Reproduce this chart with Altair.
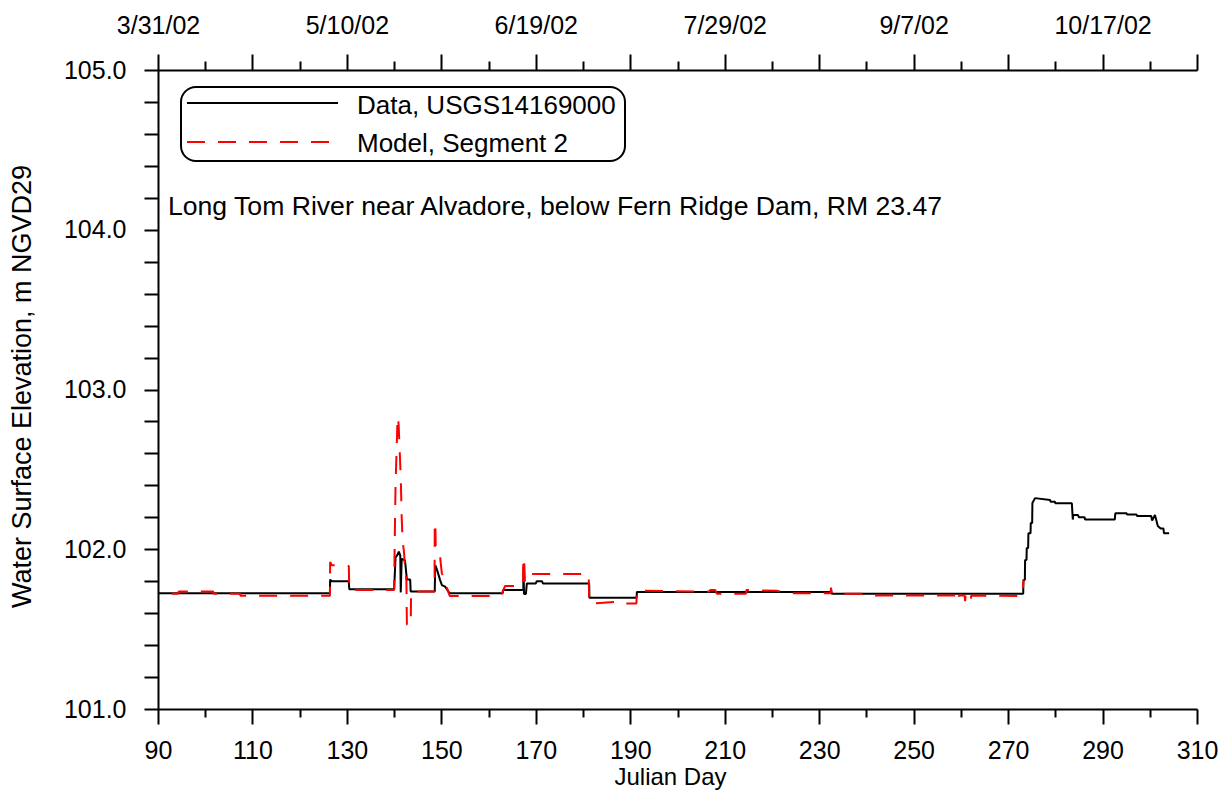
import altair as alt
import pandas as pd

# ---------------- data ----------------
data_day = [90.0, 126.4, 126.45, 126.8, 130.4, 130.5, 140.0, 140.3, 140.6, 141.0,
            141.3, 141.4, 141.6, 142.3, 142.7, 143.4, 143.5, 148.6, 148.7, 149.1,
            149.7, 150.1, 150.8, 151.5, 151.8, 163.0, 163.05, 167.35, 167.4, 167.5,
            167.9, 168.1, 170.0, 170.2, 171.3, 171.5, 181.3, 181.35, 191.35, 191.4,
            232.6, 232.65, 273.2, 273.25, 273.55, 273.6, 273.9, 273.95, 274.25, 274.3,
            274.75, 274.8, 275.1, 275.15, 275.7, 278.9, 279.0, 279.9, 280.0, 283.5,
            283.7, 283.8, 284.8, 285.0, 286.2, 286.3, 292.6, 292.7, 295.1, 295.2,
            297.2, 297.3, 300.3, 300.5, 301.1, 301.7, 302.3, 302.9, 303.0, 304.1]
data_elev = [101.725, 101.725, 101.81, 101.80, 101.80, 101.75, 101.75, 101.95, 101.96, 101.985,
             101.96, 101.73, 101.94, 101.93, 101.81, 101.81, 101.735, 101.735, 101.90, 101.87,
             101.81, 101.776, 101.766, 101.735, 101.725, 101.725, 101.745, 101.745, 101.89, 101.72,
             101.72, 101.786, 101.786, 101.80, 101.80, 101.786, 101.786, 101.697, 101.697, 101.733,
             101.733, 101.722, 101.722, 101.808, 101.808, 101.933, 101.933, 102.008, 102.008, 102.10,
             102.10, 102.164, 102.164, 102.29, 102.32, 102.308, 102.298, 102.298, 102.288, 102.288,
             102.186, 102.214, 102.214, 102.20, 102.20, 102.186, 102.186, 102.225, 102.225, 102.217,
             102.217, 102.208, 102.208, 102.18, 102.214, 102.146, 102.13, 102.13, 102.10, 102.10]

model_day = [92.9, 94.3, 94.35, 101.7, 101.75, 107.4, 107.45, 126.4, 126.45, 126.8,
             130.4, 130.5, 140.0, 140.1, 140.3, 140.5, 140.7, 140.8, 140.95, 141.2,
             141.4, 141.6, 141.8, 142.1, 142.3, 142.6, 142.7, 143.5, 143.6, 148.55,
             148.6, 148.75, 148.8, 149.7, 149.8, 150.1, 150.8, 151.5, 151.8, 162.6,
             163.5, 167.3, 167.35, 167.55, 167.7, 168.0, 181.2, 181.3, 188.0, 188.5,
             191.3, 191.4, 206.8, 206.9, 208.0, 208.3, 214.5, 214.6, 221.0, 223.5,
             232.4, 232.5, 232.7, 240.5, 241.5, 259.4, 259.5, 259.6, 260.8, 260.9,
             261.0, 262.0, 262.1, 262.2, 273.0, 273.1, 273.3]
model_elev = [101.722, 101.722, 101.735, 101.735, 101.722, 101.722, 101.709, 101.709, 101.92, 101.90,
              101.895, 101.745, 101.745, 102.0, 102.4, 102.6, 102.8, 102.83, 102.78, 102.6,
              102.45, 102.2, 102.05, 101.98, 101.88, 101.80, 101.53, 101.52, 101.735, 101.735,
              102.17, 102.12, 102.02, 102.0, 101.93, 101.85, 101.79, 101.73, 101.707, 101.707,
              101.77, 101.77, 101.95, 101.92, 101.80, 101.845, 101.845, 101.66, 101.672, 101.66,
              101.66, 101.74, 101.735, 101.745, 101.745, 101.722, 101.722, 101.745, 101.74, 101.725,
              101.725, 101.76, 101.722, 101.722, 101.71, 101.71, 101.675, 101.71, 101.71, 101.675,
              101.71, 101.71, 101.675, 101.71, 101.707, 101.745, 101.81]

series_names = ["Data, USGS14169000", "Model, Segment 2"]
series_colors = ["#000000", "#FF0000"]

x_major = [90, 110, 130, 150, 170, 190, 210, 230, 250, 270, 290, 310]
x_minor = [100, 120, 140, 160, 180, 200, 220, 240, 260, 280, 300]
top_days = [90, 130, 170, 210, 250, 290]
top_labels = ["3/31/02", "5/10/02", "6/19/02", "7/29/02", "9/7/02", "10/17/02"]
y_ticks = [101.0, 101.2, 101.4, 101.6, 101.8, 102.0, 102.2, 102.4, 102.6, 102.8,
           103.0, 103.2, 103.4, 103.6, 103.8, 104.0, 104.2, 104.4, 104.6, 104.8, 105.0]

x_title = "Julian Day"
y_title = "Water Surface Elevation, m NGVD29"
note_text = "Long Tom River near Alvadore, below Fern Ridge Dam, RM 23.47"

# ---------------- tables ----------------
df_data = pd.DataFrame({"day": data_day, "elev": data_elev, "i": list(range(len(data_day)))})
df_model = pd.DataFrame({"day": model_day, "elev": model_elev, "i": list(range(len(model_day)))})
one = pd.DataFrame({"k": [0]})

FONT = "Liberation Sans"
W, H = 1039, 639

xscale = alt.Scale(domain=[90, 310], nice=False, zero=False)
yscale = alt.Scale(domain=[101, 105], nice=False, zero=False)

top_expr = " : ".join(f"datum.value == {d} ? '{l}'" for d, l in zip(top_days, top_labels)) + " : ''"

ax_bottom = alt.Axis(orient="bottom", values=x_major, tickSize=15, labelPadding=14,
                     labelFontSize=25, format="d", labelFlush=False, labelOverlap=False,
                     titleFontSize=24, titleX=512, titleY=68, titleAlign="center",
                     titleBaseline="middle")
ax_left = alt.Axis(orient="left", values=y_ticks, tickSize=14, labelPadding=18,
                   labelFontSize=25, labelBaseline="middle", labelFlush=False, labelOverlap=False,
                   labelExpr="abs(datum.value - round(datum.value)) < 0.01 ? format(datum.value, '.1f') : ''",
                   titleFontSize=27, titleAngle=270, titleX=-135.5, titleY=316,
                   titleAlign="center", titleBaseline="middle")

line_data = alt.Chart(df_data).mark_line(color=series_colors[0], strokeWidth=2, strokeJoin="bevel").encode(
    x=alt.X("day:Q", scale=xscale, axis=ax_bottom, title=x_title),
    y=alt.Y("elev:Q", scale=yscale, axis=ax_left, title=y_title),
    order=alt.Order("i:Q"),
)

line_model = alt.Chart(df_model).mark_line(color=series_colors[1], strokeWidth=2,
                                           strokeDash=[18, 13], strokeJoin="bevel").encode(
    x=alt.X("day:Q", scale=xscale, axis=None),
    y=alt.Y("elev:Q", scale=yscale, axis=ax_left, title=y_title),
    order=alt.Order("i:Q"),
)

minor_bottom = alt.Chart(df_data).mark_point(opacity=0).encode(
    x=alt.X("day:Q", scale=xscale, title=None,
            axis=alt.Axis(orient="bottom", values=x_minor, tickSize=8, labels=False, domain=False)),
)

top_major = alt.Chart(df_data).mark_point(opacity=0).encode(
    x=alt.X("day:Q", scale=xscale, title=None,
            axis=alt.Axis(orient="top", values=x_major, tickSize=16, labelPadding=16,
                          labelFontSize=25, labelExpr=top_expr, labelFlush=False,
                          labelOverlap=False)),
)

top_minor = alt.Chart(df_data).mark_point(opacity=0).encode(
    x=alt.X("day:Q", scale=xscale, title=None,
            axis=alt.Axis(orient="top", values=x_minor, tickSize=9, labels=False, domain=False)),
)

legend_box = alt.Chart(one).mark_rect(cornerRadius=15, fill="white", stroke="black", strokeWidth=2).encode(
    x=alt.value(23), x2=alt.value(467), y=alt.value(17), y2=alt.value(91))
legend_line_data = alt.Chart(one).mark_rule(color=series_colors[0], strokeWidth=2).encode(
    x=alt.value(29), x2=alt.value(180), y=alt.value(33))
legend_line_model = alt.Chart(one).mark_rule(color=series_colors[1], strokeWidth=2,
                                             strokeDash=[18, 13]).encode(
    x=alt.value(29), x2=alt.value(180), y=alt.value(72))
legend_text_data = alt.Chart(one).mark_text(align="left", baseline="alphabetic", fontSize=26,
                                            font=FONT, color="black").encode(
    x=alt.value(199), y=alt.value(44), text=alt.value(series_names[0]))
legend_text_model = alt.Chart(one).mark_text(align="left", baseline="alphabetic", fontSize=26,
                                             font=FONT, color="black").encode(
    x=alt.value(199), y=alt.value(82), text=alt.value(series_names[1]))
note = alt.Chart(one).mark_text(align="left", baseline="alphabetic", fontSize=26.6,
                                font=FONT, color="black").encode(
    x=alt.value(10), y=alt.value(145), text=alt.value(note_text))

chart = alt.layer(
    line_data, line_model, minor_bottom, top_major, top_minor,
    legend_box, legend_line_data, legend_line_model, legend_text_data, legend_text_model, note,
).resolve_scale(x="independent").properties(
    width=W, height=H,
    padding={"left": 150, "top": 62, "right": 21, "bottom": 82},
    autosize=alt.AutoSizeParams(type="none"),
).configure_view(stroke=None).configure_axis(
    grid=False, domainColor="black", domainWidth=2, tickColor="black", tickWidth=2,
    labelColor="black", labelFont=FONT, titleFont=FONT, titleColor="black",
    titleFontWeight="normal",
)

chart.save("out.html", embed_options={"renderer": "svg", "actions": False})
